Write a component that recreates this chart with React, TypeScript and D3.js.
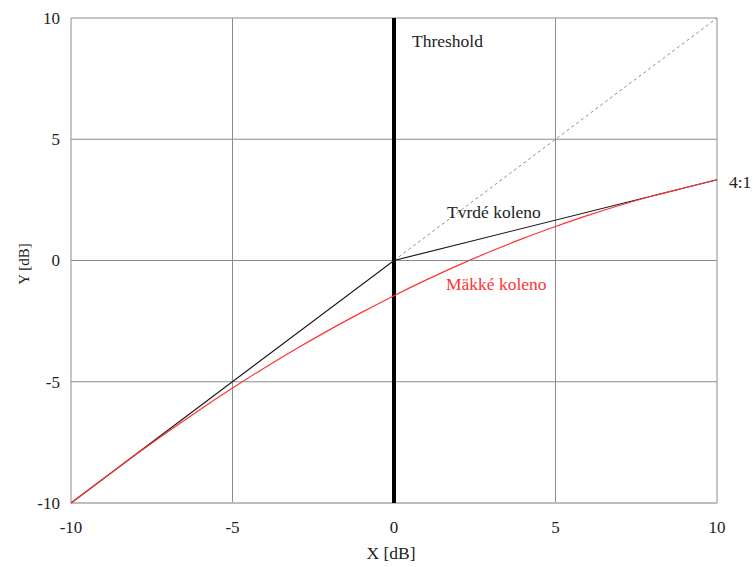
import React from "react";
import * as d3 from "d3";

const xTicks = [-10, -5, 0, 5, 10];
const yTicks = [-10, -5, 0, 5, 10];
const hardX = [-10, 0, 10];
const hardY = [-10, 0, 3.33];
const softX = [-10, -9, -8, -7, -6, -5, -4, -3, -2, -1, 0, 1, 2, 3, 4, 5, 6, 7, 8, 9, 10];
const softY = [-10, -9, -8.01, -7.06, -6.14, -5.26, -4.42, -3.62, -2.86, -2.14, -1.45, -0.8, -0.19, 0.38, 0.91, 1.4, 1.86, 2.28, 2.66, 3.0, 3.33];
const unityX = [0, 10];
const unityY = [0, 10];

const W = 753;
const H = 567;
const FONT = "\"Liberation Serif\", \"DejaVu Serif\", serif";

export default function App() {
  const x = d3.scaleLinear().domain([-10, 10]).range([71, 717]);
  const y = d3.scaleLinear().domain([-10, 10]).range([503, 18]);
  const line = d3
    .line<[number, number]>()
    .x((d) => x(d[0]))
    .y((d) => y(d[1]));
  const smooth = d3
    .line<[number, number]>()
    .x((d) => x(d[0]))
    .y((d) => y(d[1]))
    .curve(d3.curveMonotoneX);

  const hard = hardX.map((v, i) => [v, hardY[i]] as [number, number]);
  const soft = softX.map((v, i) => [v, softY[i]] as [number, number]);
  const unity = unityX.map((v, i) => [v, unityY[i]] as [number, number]);
  const ts = { fontFamily: FONT, fontSize: "17px" } as React.CSSProperties;
  const ta = { fontFamily: FONT, fontSize: "17.5px" } as React.CSSProperties;
  const tyl = { fontFamily: FONT, fontSize: "15px" } as React.CSSProperties;

  return (
    <div style={{ position: "absolute", left: 0, top: 0 }}>
      <svg width={W} height={H} style={{ display: "block", background: "#fff" }}>
        {xTicks.map((t) => (
          <line key={"gx" + t} x1={x(t)} x2={x(t)} y1={y(10)} y2={y(-10)} stroke="#8c8c8c" strokeWidth={1} />
        ))}
        {yTicks.map((t) => (
          <line key={"gy" + t} x1={x(-10)} x2={x(10)} y1={y(t)} y2={y(t)} stroke="#8c8c8c" strokeWidth={1} />
        ))}
        <line x1={x(-10)} x2={x(10)} y1={y(-10)} y2={y(-10)} stroke="#bdbdbd" strokeWidth={2} />

        <path d={line(unity) || ""} fill="none" stroke="#8a8a8a" strokeWidth={1} strokeDasharray="3,3" />

        <line x1={x(0)} x2={x(0)} y1={y(10)} y2={y(-10)} stroke="#000" strokeWidth={4} />

        <path d={line(hard) || ""} fill="none" stroke="#1a1a1a" strokeWidth={1.2} />
        <path d={smooth(soft) || ""} fill="none" stroke="#ff3333" strokeWidth={1.2} />

        {yTicks.map((t) => (
          <text key={"ty" + t} x={60} y={y(t)} dy="0.35em" textAnchor="end" style={ts} fill="#222">
            {t}
          </text>
        ))}
        {xTicks.map((t) => (
          <text key={"tx" + t} x={x(t)} y={533} textAnchor="middle" style={ts} fill="#222">
            {t}
          </text>
        ))}

        <text x={391} y={559} textAnchor="middle" style={ta} fill="#222">
          X [dB]
        </text>
        <text transform={`translate(29, 264) rotate(-90)`} textAnchor="middle" style={tyl} fill="#222">
          Y [dB]
        </text>

        <text x={412} y={47} style={ta} fill="#222">Threshold</text>
        <text x={447} y={218} style={ta} fill="#222">Tvrdé koleno</text>
        <text x={446} y={290} style={ta} fill="#ff3333">Mäkké koleno</text>
        <text x={729} y={188} style={ta} fill="#222">4:1</text>
      </svg>
    </div>
  );
}
